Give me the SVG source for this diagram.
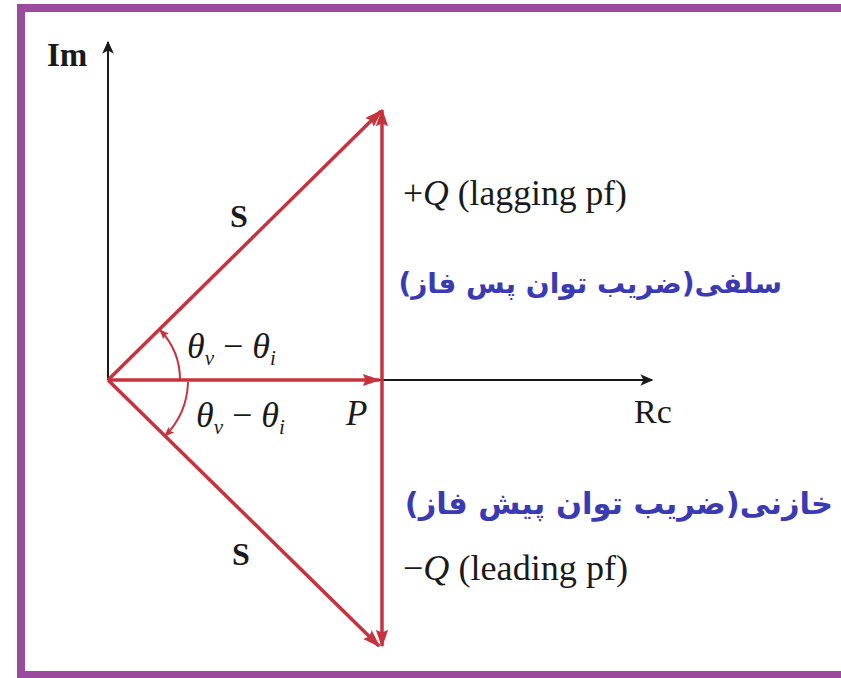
<svg xmlns="http://www.w3.org/2000/svg" width="841" height="678" viewBox="0 0 841 678">
<style>
.ax{stroke:#1a1a1a;stroke-width:2;fill:none}
.vec{stroke:#c8323c;stroke-width:3.5;fill:none}
.arc{stroke:#c8323c;stroke-width:2;fill:none}
.t{font-family:"Liberation Serif",serif;fill:#1a1a1a}
.fa{font-family:"DejaVu Sans",sans-serif;font-weight:bold;fill:#3a3ab4}
</style>
<defs>
<marker id="ka" viewBox="0 0 10 10" refX="9" refY="5" markerWidth="13" markerHeight="13" markerUnits="userSpaceOnUse" orient="auto"><path d="M0,0.5 L10,5 L0,9.5 L2.5,5 Z" fill="#1a1a1a"/></marker>
<marker id="ra" viewBox="0 0 10 10" refX="9" refY="5" markerWidth="18" markerHeight="18" markerUnits="userSpaceOnUse" orient="auto"><path d="M0,1.6 L10,5 L0,8.4 L1.5,5 Z" fill="#c8323c"/></marker>
<marker id="rs" viewBox="0 0 10 10" refX="9" refY="5" markerWidth="10" markerHeight="10" markerUnits="userSpaceOnUse" orient="auto"><path d="M0,1 L10,5 L0,9 L2,5 Z" fill="#c8323c"/></marker>
</defs>
<rect x="0" y="0" width="841" height="678" fill="#ffffff"/>
<rect x="21" y="8" width="840" height="667" fill="none" stroke="#9b4a9e" stroke-width="8"/>
<g id="connectors">
<line class="ax" x1="108" y1="380" x2="108" y2="42" marker-end="url(#ka)"/>
<line class="ax" x1="108" y1="380" x2="652" y2="380" marker-end="url(#ka)"/>
<line class="vec" x1="108" y1="380" x2="379" y2="380" marker-end="url(#ra)"/>
<line class="vec" x1="108" y1="380" x2="381" y2="111" marker-end="url(#ra)"/>
<line class="vec" x1="108" y1="380" x2="379" y2="646" marker-end="url(#ra)"/>
<line class="vec" x1="382" y1="380" x2="382" y2="110" marker-end="url(#ra)"/>
<line class="vec" x1="382" y1="380" x2="382" y2="646" marker-end="url(#ra)"/>
<path class="arc" d="M180,380 A72,72 0 0 0 160,330" marker-end="url(#rs)"/>
<path class="arc" d="M188,382 A80,80 0 0 1 165,436" marker-end="url(#rs)"/>
</g>
<g id="im"><text class="t" x="47" y="66" font-size="33" font-weight="bold">Im</text></g>
<g id="rc"><text class="t" x="634" y="423" font-size="34">Rc</text></g>
<g id="s-up"><text class="t" x="230" y="227" font-size="32" font-weight="bold">S</text></g>
<g id="s-down"><text class="t" x="232" y="565" font-size="32" font-weight="bold">S</text></g>
<g id="p"><text class="t" x="346" y="425" font-size="35" font-style="italic">P</text></g>
<g id="ang-up"><text class="t" x="187" y="358" font-size="36" font-style="italic">θ<tspan font-size="21" dy="7">v</tspan><tspan font-style="normal" dy="-7"> − </tspan>θ<tspan font-size="21" dy="7">i</tspan></text></g>
<g id="ang-down"><text class="t" x="196" y="427" font-size="36" font-style="italic">θ<tspan font-size="21" dy="7">v</tspan><tspan font-style="normal" dy="-7"> − </tspan>θ<tspan font-size="21" dy="7">i</tspan></text></g>
<g id="q-up"><text class="t" x="403" y="205" font-size="35" textLength="224" lengthAdjust="spacingAndGlyphs">+<tspan font-style="italic">Q</tspan> (lagging pf)</text></g>
<g id="q-down"><text class="t" x="403" y="580" font-size="35" textLength="225" lengthAdjust="spacingAndGlyphs">−<tspan font-style="italic">Q</tspan> (leading pf)</text></g>
<g id="fa-up"><text class="fa" x="782" y="293" font-size="28" direction="rtl" text-anchor="start">سلفی(ضریب توان پس فاز)</text></g>
<g id="fa-down"><text class="fa" x="833" y="514" font-size="30.5" direction="rtl" text-anchor="start">خازنی(ضریب توان پیش فاز)</text></g>
</svg>
